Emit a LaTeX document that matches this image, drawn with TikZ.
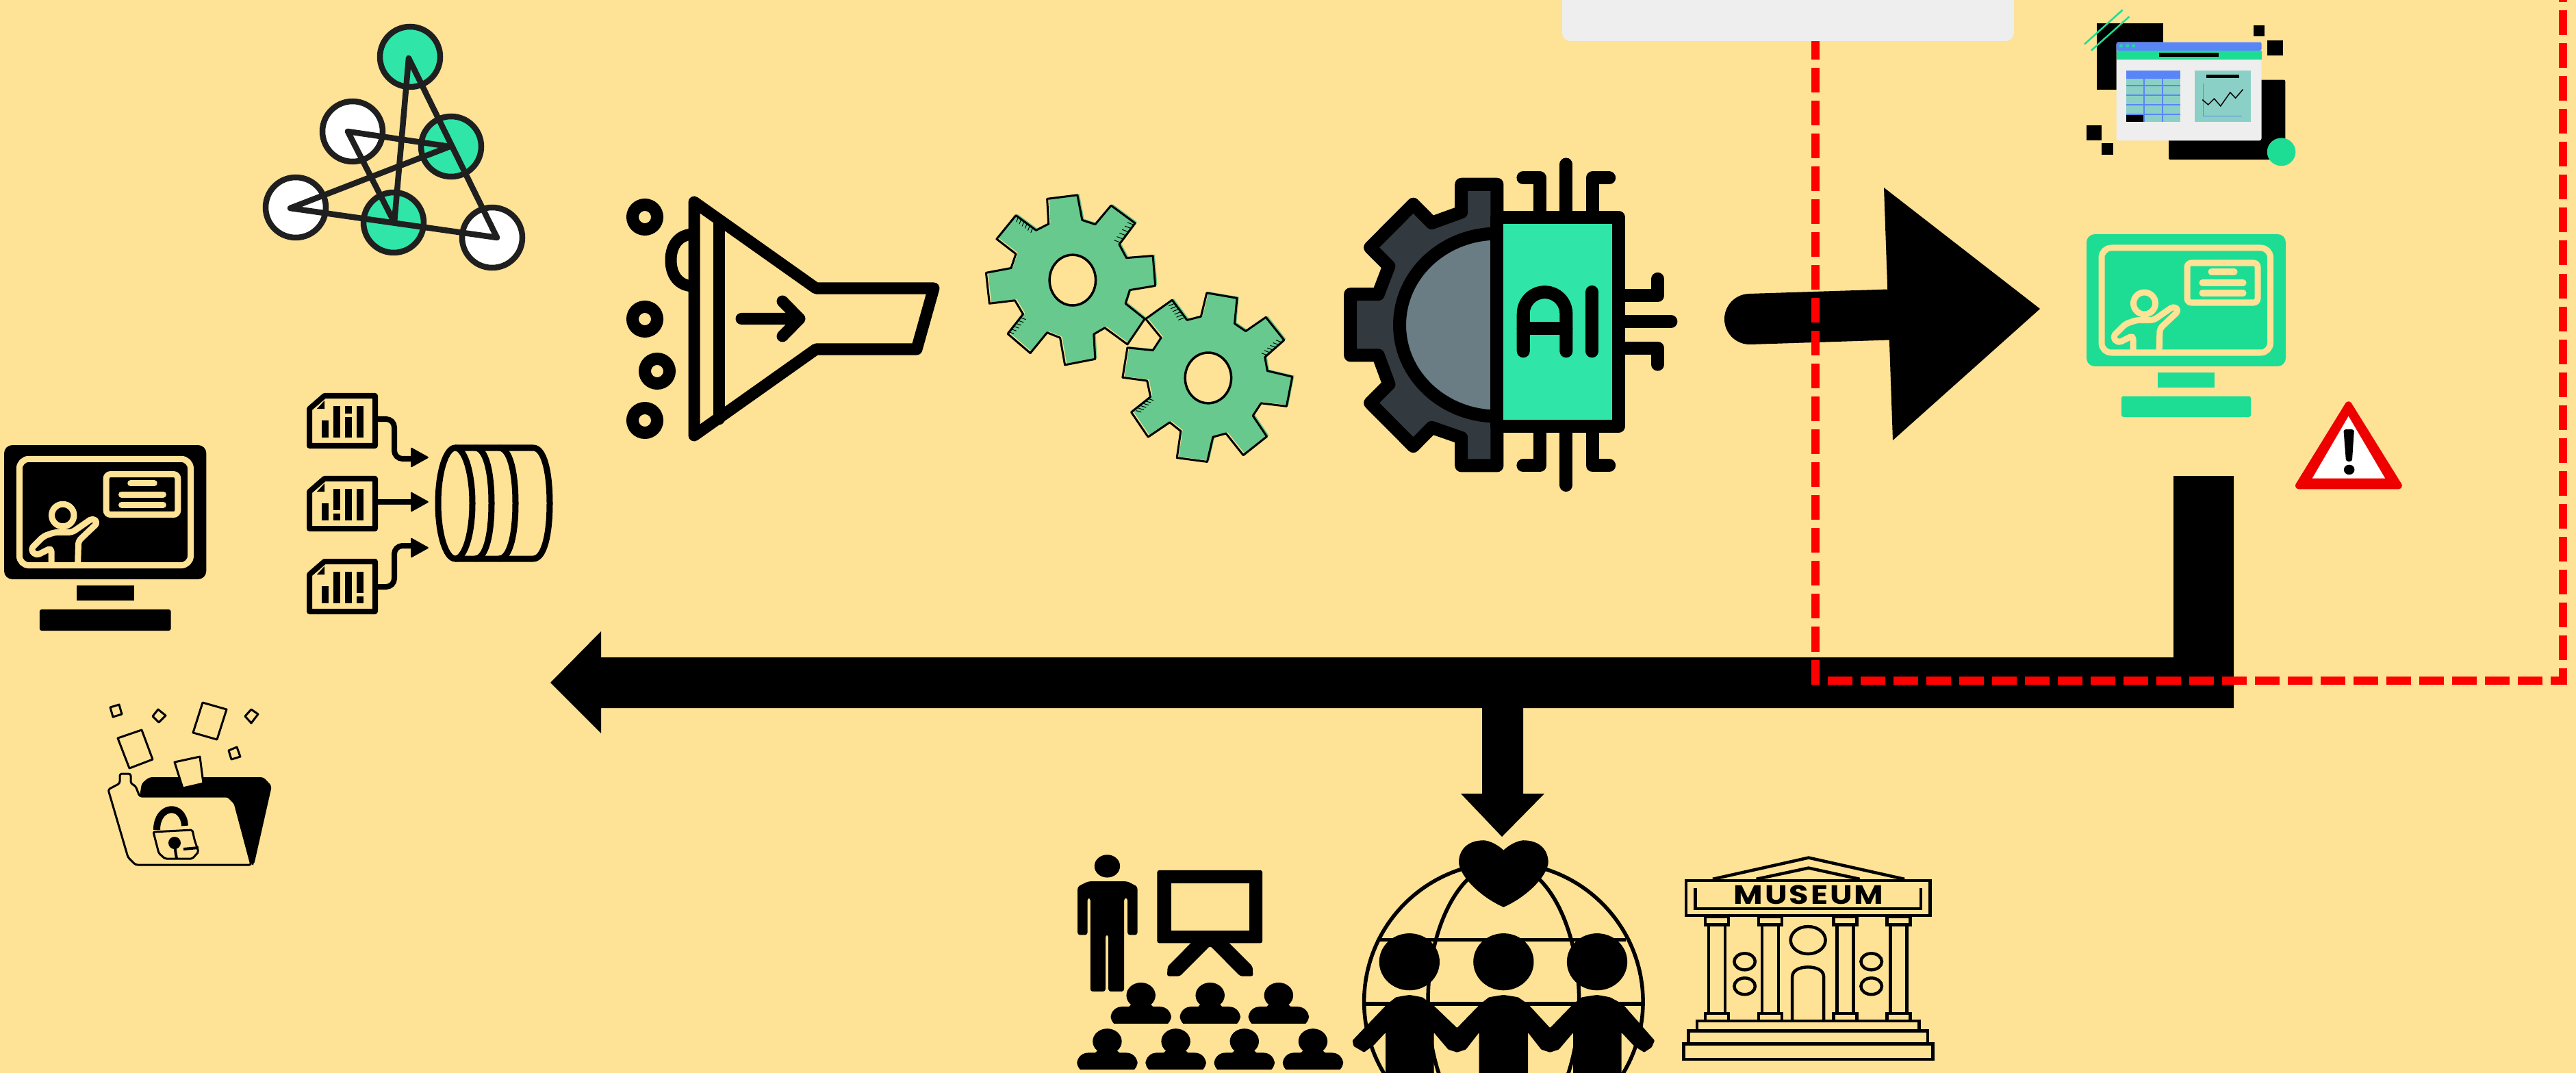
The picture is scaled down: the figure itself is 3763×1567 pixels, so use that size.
\documentclass[tikz,border=0pt]{standalone}
\usepackage{fontspec}
\setmainfont{Liberation Sans}
\newfontfamily\musfont[LetterSpace=6]{Poppins}
\definecolor{bgc}{HTML}{FEE296}
\definecolor{teal}{HTML}{30E5A8}
\definecolor{mono}{HTML}{1DDD94}
\definecolor{gearg}{HTML}{67C98D}
\definecolor{darkg}{HTML}{32393F}
\definecolor{grayf}{HTML}{6A7C84}
\definecolor{blueh}{HTML}{5A85F7}
\definecolor{paneb}{HTML}{8BD0C6}
\definecolor{wincol}{HTML}{EEEEEE}
\definecolor{warnr}{HTML}{EE0000}
\tikzset{
  net/.style={line width=.085cm,draw=black!88,line join=round,line cap=round},
  netnode/.style={line width=.085cm,draw=black!88},
  bk/.style={fill=black},
  creamline/.style={draw=bgc,line width=.09cm,line join=round,line cap=round},
  thickb/.style={draw=black,line width=.19cm,line join=round,line cap=round},
  fun/.style={draw=black,line width=.17cm,line join=round,line cap=round},
  mus/.style={draw=black,line width=.045cm,line join=miter},
  thin/.style={draw=black,line width=.03cm,line join=round},
  folder/.style={draw=black,line width=.03cm,line join=round},
  docline/.style={draw=black,line width=.08cm,line join=round},
  hatch/.style={draw=black,line width=.01cm}
}
\newcommand{\drawmonitor}[1]{%
  \fill[#1,rounded corners=.12cm] (0,0) rectangle (291,193);
  \draw[creamline,rounded corners=.14cm] (22,20) rectangle (268.5,173);
  \draw[creamline,rounded corners=.06cm] (147,42) rectangle (250,100);
  \draw[creamline] (182,55) -- (216,55) (169,71) -- (229,71) (169,86) -- (229,86);
  \draw[creamline] (84.5,101) circle (16);
  \draw[creamline,rounded corners=.05cm] (68,173) -- (68,148) -- (46,159) -- (38,150) -- (57,131) -- (73,125.5) -- (98,125.5) -- (127.5,105) -- (135,111.5) -- (107,138) -- (106,173);
  \fill[#1] (104,202) rectangle (187,224);
  \fill[#1,rounded corners=.03cm] (51,236.5) rectangle (240,267);
}
\newcommand{\drawdoc}[4]{%
  \draw[docline] (3,23) -- (25,4) -- (99,4) -- (99,77) -- (3,77) -- cycle;
  \fill[black] (14,23) -- (25,11) -- (25,23) -- cycle;
  \fill (21,#1) rectangle (31,65);
  #2 #3 #4
}
\def\gearA{(925,262) -- (988,246) -- (998,352) -- (1025,370) -- (1058,290) -- (1108,365) -- (1075,455) -- (1090,512) -- (1145,503) -- (1150,630) -- (1097,648) -- (1088,705) -- (1128,770) -- (1092,878) -- (1045,808) -- (1022,835) -- (1025,940) -- (962,965) -- (952,850) -- (925,828) -- (890,915) -- (843,833) -- (875,750) -- (858,692) -- (805,705) -- (798,575) -- (850,555) -- (860,495) -- (820,432) -- (860,332) -- (902,395) -- (928,368) -- cycle}
\def\gearB{(1257,660) -- (1320,682) -- (1315,790) -- (1338,822) -- (1380,763) -- (1418,860) -- (1378,932) -- (1383,990) -- (1435,1015) -- (1423,1140) -- (1370,1127) -- (1353,1180) -- (1382,1268) -- (1333,1347) -- (1297,1255) -- (1270,1270) -- (1258,1375) -- (1195,1358) -- (1203,1245) -- (1180,1208) -- (1135,1270) -- (1100,1165) -- (1140,1100) -- (1133,1032) -- (1082,1018) -- (1092,892) -- (1145,903) -- (1162,850) -- (1130,770) -- (1185,690) -- (1216,775) -- (1245,760) -- cycle}
\begin{document}
\begin{tikzpicture}[x=.01cm,y=-.01cm]
\useasboundingbox (0,0) rectangle (3763,1567);
\clip (0,0) rectangle (3763,1567);
\fill[bgc] (0,0) rectangle (3763,1567);

% network
\foreach \c/\fc in {{(599,83)}/teal,{(515,192)}/white,{(659,214)}/teal,{(432,303)}/white,{(575,325)}/teal,{(719,347)}/white}
  \draw[netnode,fill=\fc] \c circle (44);
\draw[net] (597,85) -- (726,347) -- (424,304) -- (657,214) -- (508,192) -- (576,325) -- (597,85);

% black monitor
\begin{scope}[shift={(6,650)},scale=1.015]
  \drawmonitor{black}
\end{scope}

% documents
\begin{scope}[shift={(449,574)}]
  \drawdoc{40}{\fill (38,19) rectangle (48,65);}{\fill (55,19) rectangle (65,30); \fill (55,35) rectangle (65,65);}{\fill (72,19) rectangle (82,65);}
\end{scope}
\begin{scope}[shift={(449,695)}]
  \drawdoc{40}{\fill (38,19) rectangle (48,50); \fill (38,55) rectangle (48,65);}{\fill (55,19) rectangle (65,65);}{\fill (72,19) rectangle (82,65);}
\end{scope}
\begin{scope}[shift={(449,816)}]
  \drawdoc{40}{\fill (38,19) rectangle (48,65);}{\fill (55,19) rectangle (65,65);}{\fill (72,19) rectangle (82,50); \fill (72,55) rectangle (82,65);}
\end{scope}
\draw[docline,rounded corners=.12cm] (551,612) -- (576,612) -- (576,670) -- (605,670);
\draw[docline] (551,733) -- (605,733);
\draw[docline,rounded corners=.12cm] (551,857) -- (576,857) -- (576,797) -- (605,797);
\foreach \y in {668,733,800}
  \fill[rounded corners=.015cm] (600,\y-15) -- (627,\y) -- (600,\y+15) -- cycle;

% database
\begin{scope}[line width=.09cm,draw=black]
  \draw (665,735) ellipse [x radius=25,y radius=81];
  \draw (665,654) -- (779,654) .. controls (795,654) and (803,690) .. (803,735) .. controls (803,780) and (795,816) .. (779,816) -- (665,816);
  \draw (694,654) .. controls (710,654) and (718,690) .. (718,735) .. controls (718,780) and (710,816) .. (694,816);
  \draw (729,654) .. controls (745,654) and (753,690) .. (753,735) .. controls (753,780) and (745,816) .. (729,816);
\end{scope}

% folder with lock
\fill[black,rounded corners=.04cm] (204,1163) -- (207,1144) -- (218,1135) -- (385,1135) -- (397,1148) -- (371,1263) -- (367,1263) -- (343,1173) -- (333,1163) -- cycle;
\draw[folder,fill=bgc,rounded corners=.03cm] (158,1153) -- (175,1144) -- (175,1130) -- (191,1130) -- (191,1144) -- (198,1148) -- (204,1163) -- (333,1163) -- (343,1173) -- (367,1263) -- (198,1263) -- (187,1252) -- cycle;
\draw[folder,fill=bgc] (255,1113) -- (292,1105) -- (297,1144) -- (267,1151) -- cycle;
\draw[folder] (296,1026) -- (331,1036) -- (317,1080) -- (282,1070) -- cycle;
\draw[folder] (172,1078) -- (207,1066) -- (223,1109) -- (189,1122) -- cycle;
\draw[folder] (161,1033) -- (174,1029) -- (178,1043) -- (165,1047) -- cycle;
\draw[folder] (231,1036) -- (242,1045) -- (232,1055) -- (223,1046) -- cycle;
\draw[folder] (367,1036) -- (377,1043) -- (367,1056) -- (358,1046) -- cycle;
\draw[folder] (334,1096) -- (346,1091) -- (351,1105) -- (338,1109) -- cycle;
\draw[black,line width=.1cm] (229,1212) .. controls (229,1175) and (268,1172) .. (270,1206);
\draw[folder,rounded corners=.02cm] (224,1215) -- (281,1212) -- (284,1226) -- (290,1244) -- (281,1254) -- (241,1254) -- (232,1246) -- cycle;
\fill (255,1231) circle (9);
\draw[black,line width=.04cm] (255,1235) -- (258,1254) (268,1240) -- (290,1238);

% funnel
\begin{scope}[fun]
  \draw (1014,342) .. controls (990,342) and (980,360) .. (980,380) .. controls (980,400) and (990,418) .. (1014,418);
  \draw[fill=bgc] (1014,295) -- (1192,421) -- (1364,421) -- (1339,510) -- (1192,510) -- (1014,636) -- cycle;
  \draw (1050,324) -- (1050,612);
  \draw (1083,465.5) -- (1165,465.5) (1143,440) -- (1168,465.5) -- (1143,491);
\end{scope}
\foreach \c in {{(942,317)},{(942,466)},{(960,542)},{(942,614)}}
  \draw[black,line width=.18cm] \c circle (18);

% gears
\begin{scope}[shift={(880,200)},x=.0070175cm,y=-.0034483cm]
  \begin{scope}[shift={(4,-5)}]
    \fill[gearg] \gearA;
    \fill[gearg] \gearB;
  \end{scope}
  \draw[thin] \gearA;
  \draw[thin] \gearB;
  \draw[black,line width=.035cm,fill=bgc] (978,606) ellipse [x radius=48,y radius=107];
  \draw[black,line width=.035cm,fill=bgc] (1260,1020) ellipse [x radius=48,y radius=107];
  \foreach \i in {0,...,5} {
    \draw[hatch] (865+\i*6,340+\i*9) -- ++(-4,20);
    \draw[hatch] (1105-\i*5.5,372+\i*15) -- ++(-13,-10);
    \draw[hatch] (870-\i*5,765+\i*12) -- ++(11,8);
    \draw[hatch] (1190+\i*4,705+\i*12) -- ++(-12,10);
    \draw[hatch] (1414-\i*6,870+\i*11) -- ++(-13,-10);
    \draw[hatch] (1135-\i*5,1108+\i*10) -- ++(11,7);
  }
\end{scope}

% AI icon
\begin{scope}[shift={(1950,220)},x=.0033333cm,y=-.0033333cm]
  \draw[thickb] (826,120) -- (900,120) -- (900,292);
  \draw[thickb] (1015,60) -- (1015,292);
  \draw[thickb] (1204,120) -- (1130,120) -- (1130,292);
  \draw[thickb] (826,1382) -- (900,1382) -- (900,1210);
  \draw[thickb] (1015,1468) -- (1015,1210);
  \draw[thickb] (1204,1382) -- (1130,1382) -- (1130,1210);
  \draw[thickb] (1245,636) -- (1417,636) -- (1417,563);
  \draw[thickb] (1245,750) -- (1475,750);
  \draw[thickb] (1245,866) -- (1417,866) -- (1417,938);
  \draw[thickb,fill=darkg] (712,148) -- (555,148) -- (555,270) -- (425,317) -- (344,235) -- (155,425) -- (237,507) -- (190,630) -- (68,630) -- (68,898) -- (190,898) -- (237,1025) -- (155,1107) -- (344,1297) -- (425,1215) -- (555,1260) -- (555,1382) -- (712,1382) -- cycle;
  \draw[thickb,fill=grayf] (712,364) arc[start angle=270,end angle=90,x radius=428,y radius=401] -- cycle;
  \draw[thickb,fill=teal] (712,292) rectangle (1245,1210);
  \draw[thickb] (827,880) -- (827,715) arc[start angle=180,end angle=360,x radius=94,y radius=94] -- (1015,880);
  \draw[thickb] (827,779) -- (1015,779);
  \draw[thickb] (1129,620) -- (1129,880);
\end{scope}

% big right arrow
\coordinate (arrA) at (2556,466);
\coordinate (arrB) at (2775,459);
\draw[black,line width=.74cm,line cap=round] (arrA) -- (arrB);
\fill[black] (2752,274) -- (2980,451) -- (2765,643) -- cycle;

% dashboard
\begin{scope}[shift={(2950,0)},x=.0051840cm,y=-.0048473cm]
  \fill (217,70) rectangle (405,270);
  \fill[rounded corners=.02cm] (420,240) rectangle (748,480);
  \fill (659,76) rectangle (690,110);
  \fill (698,121) rectangle (742,167);
  \fill (189,376) rectangle (231,422);
  \fill (231,431) rectangle (264,465);
  \fill[mono] (737,457) ellipse [x radius=40,y radius=42];
  \draw[mono,line width=.025cm] (183,133) -- (290,30) (202,152) -- (309,50);
  \fill[wincol,rounded corners=.03cm] (273,127) rectangle (681,423);
  \fill[blueh,rounded corners=.02cm] (273,127) rectangle (681,152);
  \fill[mono] (273,152) rectangle (681,180);
  \fill (393,158) rectangle (560,171);
  \foreach \x in {286,304,321} \fill[mono] (\x,138) ellipse [x radius=5,y radius=5];
  \fill[paneb] (301,213) rectangle (452,367);
  \fill[blueh] (301,213) rectangle (452,236);
  \draw[blueh,line width=.015cm] (301,257) -- (452,257) (301,286) -- (452,286) (301,315) -- (452,315) (301,344) -- (452,344) (351,236) -- (351,367) (403,236) -- (403,367);
  \fill (301,347) rectangle (348,367);
  \fill[paneb] (493,213) rectangle (651,367);
  \fill (526,225) rectangle (619,235);
  \draw[blueh,line width=.015cm] (517,252) -- (517,349) -- (627,349);
  \draw[black,line width=.015cm] (515,300) -- (531,315) -- (548,297) -- (566,319) -- (593,278) -- (608,295) -- (629,269);
\end{scope}

% green monitor
\begin{scope}[shift={(3048,342)}]
  \drawmonitor{mono}
\end{scope}

% warning
\begin{scope}[shift={(2950,0)},x=.0051840cm,y=-.0048473cm]
  \draw[warnr,fill=warnr,line width=.1cm,line join=round] (926,1218) -- (786,1461) -- (1067,1461) -- cycle;
  \fill[white] (926,1252) -- (824,1439) -- (1029,1439) -- cycle;
  \fill[black,rounded corners=.03cm] (912,1292) -- (942,1292) -- (936,1388) -- (919,1388) -- cycle;
  \fill[black] (928,1413) ellipse [x radius=15,y radius=15];
\end{scope}

% L-shaped big arrow
\coordinate (lstart) at (3219,695);
\fill[black] (3175,695) -- (3263,695) -- (3263,1034) -- (878,1034) -- (878,1071) -- (804,997) -- (878,922) -- (878,960) -- (3175,960) -- cycle;
% down arrow
\fill[black] (2165,1030) -- (2225,1030) -- (2225,1159) -- (2256,1159) -- (2194,1222) -- (2134,1159) -- (2165,1159) -- cycle;

% red dashed region
\draw[red,line width=.12cm,dash pattern=on .36cm off .12cm] (2652,51) -- (2652,994) -- (3744,994) -- (3744,-10);

% top grey box
\fill[wincol,rounded corners=.12cm] (2282,-30) rectangle (2942,60);

% lecture + globe + museum
\begin{scope}[shift={(1530,1200)},x=.0084818cm,y=-.0033333cm]
  % lecturer
  \fill (103,195) ellipse [x radius=22,y radius=50];
  \fill[rounded corners=.035cm] (70,262) -- (138,262) -- (155,285) -- (155,497) -- (138,497) -- (138,335) -- (132,335) -- (132,745) -- (105,745) -- (105,497) -- (100,497) -- (100,745) -- (74,745) -- (74,335) -- (69,335) -- (69,497) -- (52,497) -- (52,285) -- cycle;
  % board
  \fill[rounded corners=.03cm] (189,213) rectangle (370,533);
  \fill[bgc] (213,270) rectangle (347,478);
  \fill[rounded corners=.03cm] (250,525) -- (207,635) -- (206,678) -- (228,678) -- (280,545) -- (332,678) -- (354,678) -- (353,635) -- (310,525) -- cycle;
  % audience
  \foreach \x/\y in {161/0,280/0,398/0,103/202,221/202,339/202,457/202} {
    \begin{scope}[shift={(\x,\y)}]
      \fill (0,762) ellipse [x radius=25,y radius=56];
      \fill (-12,790) -- (12,790) -- (22,815) -- (-22,815) -- cycle;
      \fill[rounded corners=.16cm] (-52,900) -- (-52,812) -- (52,812) -- (52,900) -- cycle;
      \fill[bgc] (-60,886) rectangle (60,905);
    \end{scope}
  }
  % globe
  \draw[black,line width=.055cm] (785,790) ellipse [x radius=240,y radius=610];
  \draw[black,line width=.055cm] (785,790) ellipse [x radius=130,y radius=610];
  \draw[black,line width=.055cm] (572,518) -- (995,518) (545,800) -- (1025,800);
  % heart
  \fill (785,125) .. controls (770,90) and (755,80) .. (748,82) .. controls (720,85) and (708,130) .. (708,180) .. controls (710,240) and (745,330) .. (785,375) .. controls (825,330) and (860,240) .. (862,180) .. controls (862,130) and (850,85) .. (822,82) .. controls (815,80) and (800,90) .. (785,125) -- cycle;
  % people
  \foreach \x in {623,785,946} \fill (\x,615) ellipse [x radius=52,y radius=125];
  \fill[rounded corners=.01cm] (582,1150) -- (582,925) -- (562,980) -- (545,1012) -- (527,985) -- (525,960) -- (585,800) -- (600,770) -- (623,760) -- (645,770) -- (662,800) -- (705,905) -- (745,800) -- (760,770) -- (785,760) -- (810,770) -- (827,800) -- (865,905) -- (905,800) -- (920,770) -- (946,760) -- (968,770) -- (990,800) -- (1045,960) -- (1040,990) -- (1027,1012) -- (1010,985) -- (988,925) -- (988,1150) -- (905,1150) -- (905,925) -- (880,1000) -- (865,1012) -- (850,1000) -- (827,925) -- (827,1150) -- (743,1150) -- (743,925) -- (720,1000) -- (705,1012) -- (690,1000) -- (665,925) -- (665,1150) -- cycle;
  % museum
  \draw[mus,line join=round] (1145,252) -- (1310,158) -- (1475,252);
  \draw[mus,line join=round] (1220,252) -- (1310,203) -- (1398,252);
  \draw[mus] (1099,258) rectangle (1519,412);
  \draw[mus] (1115,292) -- (1115,382) -- (1503,382) -- (1503,292);
  \node[inner sep=0pt,transform shape,xscale=1.2,font=\musfont\bfseries\fontsize{11pt}{11pt}\selectfont] (musname) at (1310,322) {MUSEUM};
  \foreach \x in {1152,1244,1373,1465} {
    \draw[mus] (\x-20,418) rectangle (\x+20,452);
    \draw[mus] (\x-14,452) rectangle (\x+14,842);
    \draw[mus] (\x-20,842) rectangle (\x+20,875);
  }
  \draw[mus] (1309,520) ellipse [x radius=30,y radius=60];
  \foreach \c in {{(1200,614)},{(1200,722)},{(1418,614)},{(1418,722)}}
    \draw[mus] \c ellipse [x radius=18,y radius=36];
  \draw[mus] (1282,875) -- (1282,680) .. controls (1282,650) and (1296,638) .. (1309,638) .. controls (1322,638) and (1336,650) .. (1336,680) -- (1336,875);
  \draw[mus,fill=bgc] (1118,875) rectangle (1500,918);
  \draw[mus,fill=bgc] (1103,918) rectangle (1515,975);
  \draw[mus,fill=bgc] (1095,975) rectangle (1524,1043);
\end{scope}
\end{tikzpicture}
\end{document}
